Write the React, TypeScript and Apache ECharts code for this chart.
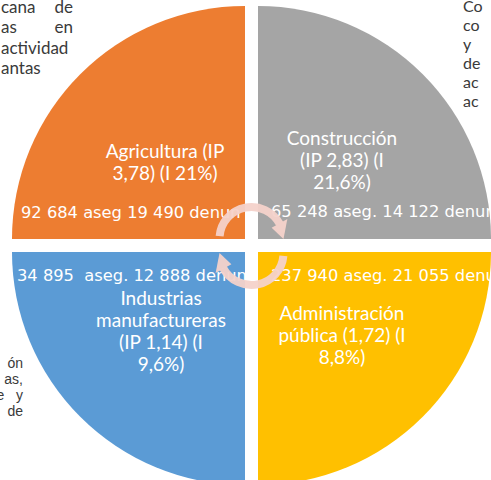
import React, { useEffect, useRef } from "react";
import * as echarts from "echarts";

// Sectors in clockwise order starting at 12 o'clock
const sectors = ["Construcción", "Administración pública", "Industrias manufactureras", "Agricultura"];
const shares = [25, 25, 25, 25];
const ipValues = [2.83, 1.72, 1.14, 3.78];
const incidence = [21.6, 8.8, 9.6, 21];
const asegurados = [65248, 237940, 34895, 92684];
const denuncias = [14122, 21055, 12888, 19490];

// surrounding document text fragments (cut by the crop)
const leftTopWords = [["cana", "de"], ["as", "en"], ["actividad", ""], ["antas", ""]];
const rightTopWords = ["Co", "co", "y", "de", "ac", "ac"];
const leftBottomWords = ["ón", "as,", "e   y", "de"];

const COLORS = ["#A5A5A5", "#FFC000", "#5B9BD5", "#ED7D31"];

const dec = (n: number, d: number) => n.toFixed(d).replace(".", ",");
const pct = (n: number) => String(n).replace(".", ",");
const thou = (n: number) => String(n).replace(/\B(?=(\d{3})+(?!\d))/g, " ");

export default function App() {
  const ref = useRef<HTMLDivElement>(null);
  useEffect(() => {
    if (!ref.current) return;
    const chart = echarts.init(ref.current, undefined, { renderer: "svg" });
    const CX = 251.5;
    const CY = 245.5;

    const titles = [
      `${sectors[0]}\n(IP ${dec(ipValues[0], 2)}) (I\n${pct(incidence[0])}%)`,
      `Administración\npública (${dec(ipValues[1], 2)}) (I\n${pct(incidence[1])}%)`,
      `Industrias\nmanufactureras\n(IP ${dec(ipValues[2], 2)}) (I\n${pct(incidence[2])}%)`,
      `${sectors[3]} (IP\n${dec(ipValues[3], 2)}) (I ${pct(incidence[3])}%)`,
    ];
    const titlePos = [
      [342, 159.5],
      [342, 334],
      [161, 330],
      [165, 161.5],
    ];
    const counts = [
      `${thou(asegurados[0])} aseg. ${thou(denuncias[0])} denun`,
      `${thou(asegurados[1])} aseg. ${thou(denuncias[1])} denun`,
      `${thou(asegurados[2])}  aseg. ${thou(denuncias[2])} denun`,
      `${thou(asegurados[3])} aseg ${thou(denuncias[3])} denun`,
    ];
    const countPos = [
      [271, 211],
      [271, 275],
      [17, 275],
      [21, 212],
    ];

    const titleFont = "Lato, 'Open Sans', sans-serif";
    const countFont = "'DejaVu Sans', sans-serif";
    const docFont = "Lato, sans-serif";

    const elements: any[] = [];
    titles.forEach((t, i) => {
      elements.push({
        type: "text",
        x: titlePos[i][0],
        y: titlePos[i][1],
        z: 95,
        style: {
          text: t,
          fill: "#ffffff",
          font: `19px ${titleFont}`,
          align: "center",
          verticalAlign: "middle",
          lineHeight: 22,
        },
      });
    });
    counts.forEach((t, i) => {
      elements.push({
        type: "text",
        x: countPos[i][0],
        y: countPos[i][1],
        z: 95,
        style: {
          text: t,
          fill: "#ffffff",
          font: `16.3px ${countFont}`,
          align: "left",
          verticalAlign: "middle",
        },
      });
    });
    // document text fragments
    leftTopWords.forEach((w, i) => {
      const y = 6 + i * 20.5;
      elements.push({
        type: "text", x: 1, y, z: 95,
        style: { text: w[0], fill: "#3a3a3a", font: `17px ${docFont}`, align: "left", verticalAlign: "middle" },
      });
      if (w[1]) {
        elements.push({
          type: "text", x: 73, y, z: 95,
          style: { text: w[1], fill: "#3a3a3a", font: `17px ${docFont}`, align: "right", verticalAlign: "middle" },
        });
      }
    });
    rightTopWords.forEach((w, i) => {
      elements.push({
        type: "text", x: 463, y: 5 + i * 19, z: 95,
        style: { text: w, fill: "#3a3a3a", font: `16px ${docFont}`, align: "left", verticalAlign: "middle" },
      });
    });
    leftBottomWords.forEach((w, i) => {
      elements.push({
        type: "text", x: 23, y: 363 + i * 16, z: 95,
        style: { text: w, fill: "#3a3a3a", font: `14px 'Liberation Sans', Arial, sans-serif`, align: "right", verticalAlign: "middle" },
      });
    });

    // circular arrows in the centre
    const deg = Math.PI / 180;
    const arrowColor = "#F4D2CA";
    const R = 32;
    const W = 8;
    const arrows = [
      { cx: CX, cy: 239, a0: 185, a1: 331, tip: 360 },
      { cx: CX, cy: 253, a0: 5, a1: 151, tip: 180 },
    ];
    arrows.forEach((a) => {
      elements.push({
        type: "arc",
        z: 100,
        shape: { cx: a.cx, cy: a.cy, r: R, startAngle: a.a0 * deg, endAngle: (a.a1 + 1) * deg, clockwise: true },
        style: { stroke: arrowColor, lineWidth: W, fill: null, opacity: 0.95 },
      });
      const b = a.a1 * deg;
      const t = a.tip * deg;
      const pts = [
        [a.cx + (R - 9) * Math.cos(b), a.cy + (R - 9) * Math.sin(b)],
        [a.cx + (R + 9) * Math.cos(b), a.cy + (R + 9) * Math.sin(b)],
        [a.cx + R * Math.cos(t), a.cy + R * Math.sin(t)],
      ];
      elements.push({
        type: "polygon",
        z: 100,
        shape: { points: pts },
        style: { fill: arrowColor, opacity: 0.95 },
      });
    });

    chart.setOption({
      animation: false,
      backgroundColor: "#ffffff",
      series: [
        {
          type: "pie",
          center: [CX, CY],
          radius: 233,
          startAngle: 90,
          clockwise: true,
          selectedMode: "multiple",
          selectedOffset: 9.2,
          silent: true,
          avoidLabelOverlap: false,
          label: { show: false },
          labelLine: { show: false },
          emphasis: { disabled: true },
          data: sectors.map((name, i) => ({
            name,
            value: shares[i],
            selected: true,
            itemStyle: { color: COLORS[i] },
          })),
        },
      ],
      graphic: { elements },
    });
    return () => chart.dispose();
  }, []);
  return <div ref={ref} style={{ position: "fixed", left: 0, top: 0, width: 491, height: 480 }} />;
}
